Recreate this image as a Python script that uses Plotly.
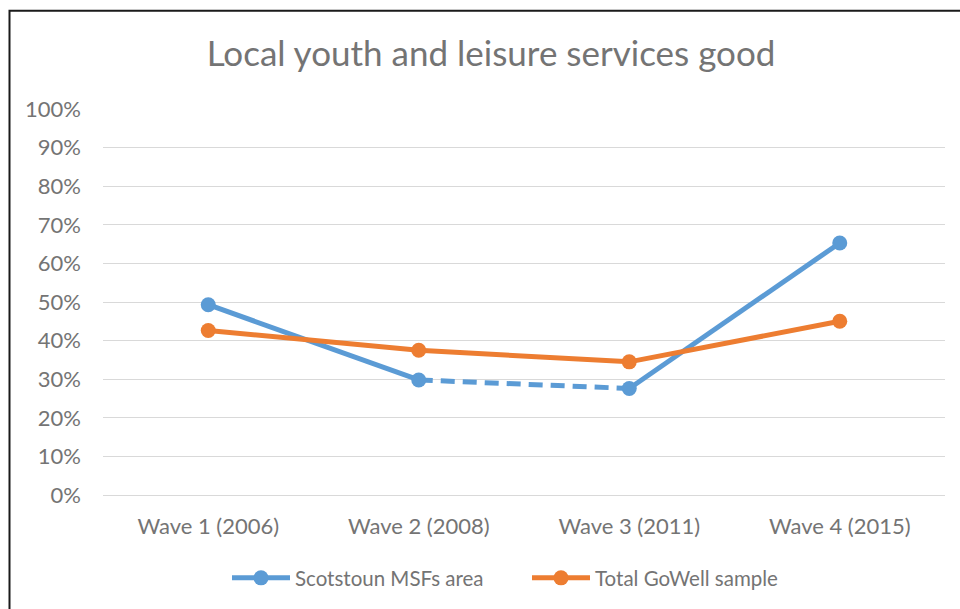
import plotly.graph_objects as go

# Survey waves and share of respondents rating local youth/leisure services as good
waves = ["Wave 1 (2006)", "Wave 2 (2008)", "Wave 3 (2011)", "Wave 4 (2015)"]
scotstoun = [0.493, 0.298, 0.276, 0.653]
gowell = [0.426, 0.375, 0.345, 0.450]
y_ticks = [0.0, 0.1, 0.2, 0.3, 0.4, 0.5, 0.6, 0.7, 0.8, 0.9, 1.0]

BLUE = "#5B9BD5"
ORANGE = "#ED7D31"
TEXT = "#747474"
GRID = "#D9D9D9"
FONT = "Lato"

pos = list(range(len(waves)))

fig = go.Figure()

# Scotstoun: solid between waves 1-2 and 3-4, dashed between waves 2-3
solid_x = pos[:2] + [None] + pos[2:]
solid_y = scotstoun[:2] + [None] + scotstoun[2:]
fig.add_trace(go.Scatter(
    x=pos[1:3], y=scotstoun[1:3], mode="lines",
    line=dict(color=BLUE, width=5, dash="14px,8px"),
    showlegend=False, hoverinfo="skip",
))
fig.add_trace(go.Scatter(
    x=solid_x, y=solid_y, mode="lines+markers", name="Scotstoun MSFs area",
    line=dict(color=BLUE, width=5), marker=dict(size=15, color=BLUE),
    connectgaps=False,
))
fig.add_trace(go.Scatter(
    x=pos, y=gowell, mode="lines+markers", name="Total GoWell sample",
    line=dict(color=ORANGE, width=5), marker=dict(size=15, color=ORANGE),
))

L, R, T, B = 103, 15, 109, 113
W, H = 960, 609
pw, ph = W - L - R, H - T - B

def px_x(v):
    return (v - L) / pw

def px_y(v):
    return (H - B - v) / ph

fig.update_layout(
    width=W, height=H,
    margin=dict(l=L, r=R, t=T, b=B),
    paper_bgcolor="white", plot_bgcolor="white",
    font=dict(family=FONT, color=TEXT, size=22),
    title=dict(
        text="Local youth and leisure services good",
        x=491 / W, xanchor="center",
        y=1 - 54 / H, yanchor="middle",
        font=dict(family=FONT, size=35, color=TEXT),
    ),
    xaxis=dict(
        range=[-0.5, len(waves) - 0.5],
        tickmode="array", tickvals=pos, ticktext=waves,
        showgrid=False, zeroline=False,
        showline=True, linecolor=GRID, linewidth=1,
        ticks="", ticklabelstandoff=12,
        tickfont=dict(family=FONT, size=22, color=TEXT),
        fixedrange=True,
    ),
    yaxis=dict(
        range=[0, 1], tickmode="array", tickvals=y_ticks,
        tickformat=".0%", showgrid=True, gridcolor=GRID, gridwidth=1,
        zeroline=False, showline=False, ticks="", ticklabelstandoff=21,
        tickfont=dict(family=FONT, size=22, color=TEXT),
        fixedrange=True,
    ),
    legend=dict(
        orientation="h", x=px_x(227), xanchor="left",
        y=px_y(578), yanchor="middle",
        font=dict(family=FONT, size=20.5, color=TEXT),
        itemwidth=58, tracegroupgap=0,
        entrywidth=227, entrywidthmode="pixels",
    ),
    shapes=[dict(
        type="rect", xref="paper", yref="paper",
        x0=px_x(9.5), x1=px_x(975), y0=px_y(625), y1=px_y(10.5),
        line=dict(color="#1A1A1A", width=2), fillcolor="rgba(0,0,0,0)",
        layer="above",
    )],
)

fig.write_html("out.html")
